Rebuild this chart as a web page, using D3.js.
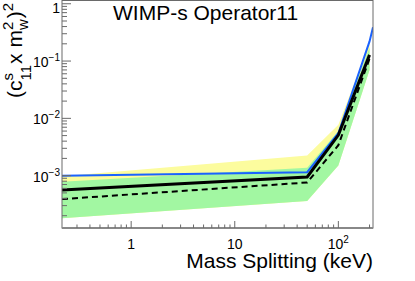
<!DOCTYPE html>
<html>
<head>
<meta charset="utf-8">
<script src="https://cdn.jsdelivr.net/npm/d3@7"></script>
<style>
  body { margin: 0; background: #fff; }
  text { font-family: "Liberation Sans", Arial, Helvetica, sans-serif; fill: #000; }
</style>
</head>
<body>
<svg width="415" height="281"></svg>
<script>
// mass splitting points (keV)
var mass = [0.215, 50, 100, 200];
var expected = [5.6e-4, 9.5e-4, 5.1e-3, 0.128];
var median = [3.9e-4, 7.6e-4, 3.4e-3, 0.11];
var greenHi = [7.8e-4, 1.38e-3, 6.0e-3, 0.17];
var greenLo = [1.8e-4, 3.6e-4, 1.5e-3, 0.07];
var yellowHi = [9.8e-4, 2.25e-3, 7.7e-3, 0.2];
var yellowLo = [1.8e-4, 3.6e-4, 1.5e-3, 0.07];
// blue curve runs up to the frame edge
var blueMass = [0.215, 50, 100, 200, 216];
var blueVal = [1.0e-3, 1.15e-3, 5.5e-3, 0.22, 0.39];

var xTickVals = [1, 10, 100];
var xTickLabels = [["1", ""], ["10", ""], ["10", "2"]];
var yTickVals = [1, 0.1, 0.01, 0.001];
var yTickLabels = [["1", ""], ["10", "\u22121"], ["10", "\u22122"], ["10", "\u22123"]];

var svg = d3.select("svg");
var fLeft = 62, fRight = 373, fTop = 0.5, fBottom = 228;

var x = d3.scaleLog().domain([0.215, 216]).range([fLeft, fRight]);
var y = d3.scaleLog().domain([1.22e-4, 1.14]).range([fBottom, fTop]);

svg.append("defs").append("clipPath").attr("id", "frame")
  .append("rect").attr("x", fLeft).attr("y", fTop)
  .attr("width", fRight - fLeft).attr("height", fBottom - fTop);

var plot = svg.append("g").attr("clip-path", "url(#frame)");

function band(hi, lo) {
  var pts = mass.map(function (m, i) { return [m, hi[i], lo[i]]; });
  return d3.area()
    .x(function (d) { return x(d[0]); })
    .y0(function (d) { return y(d[2]); })
    .y1(function (d) { return y(d[1]); })(pts);
}

plot.append("path").attr("d", band(yellowHi, yellowLo)).attr("fill", "#fcfc9e");
plot.append("path").attr("d", band(greenHi, greenLo)).attr("fill", "#a2f7a2");

var line = d3.line()
  .x(function (d) { return x(d[0]); })
  .y(function (d) { return y(d[1]); });

plot.append("path")
  .attr("d", line(d3.zip(blueMass, blueVal)))
  .attr("fill", "none").attr("stroke", "#1a62ff").attr("stroke-width", 2);

plot.append("path")
  .attr("d", line(d3.zip(mass, expected)))
  .attr("fill", "none").attr("stroke", "#000").attr("stroke-width", 3);

plot.append("path")
  .attr("d", line(d3.zip(mass, median)))
  .attr("fill", "none").attr("stroke", "#000").attr("stroke-width", 2)
  .attr("stroke-dasharray", "6,4");

// frame and ticks
var axisCol = "#6a6a6a";
svg.append("rect").attr("x", fLeft).attr("y", fTop)
  .attr("width", fRight - fLeft).attr("height", fBottom - fTop)
  .attr("fill", "none").attr("stroke", axisCol).attr("stroke-width", 1);
svg.append("line").attr("x1", fLeft).attr("x2", fRight)
  .attr("y1", fBottom).attr("y2", fBottom)
  .attr("stroke", "#888").attr("stroke-width", 2);

// x ticks (inward)
var xMinor = [];
[0.1, 1, 10, 100].forEach(function (d) {
  for (var k = 2; k <= 9; k++) {
    var v = d * k;
    if (v > 0.215 && v < 216) xMinor.push(v);
  }
});
svg.append("g").selectAll("line").data(xMinor).join("line")
  .attr("x1", function (d) { return x(d); }).attr("x2", function (d) { return x(d); })
  .attr("y1", fBottom).attr("y2", fBottom - 3.5)
  .attr("stroke", axisCol);
svg.append("g").selectAll("line").data(xTickVals).join("line")
  .attr("x1", function (d) { return x(d); }).attr("x2", function (d) { return x(d); })
  .attr("y1", fBottom).attr("y2", fBottom - 7)
  .attr("stroke", axisCol);

// y ticks (inward)
var yMinor = [];
[0.0001, 0.001, 0.01, 0.1].forEach(function (d) {
  for (var k = 2; k <= 9; k++) {
    var v = d * k;
    if (v > 1.22e-4 && v < 1.14) yMinor.push(v);
  }
});
svg.append("g").selectAll("line").data(yMinor).join("line")
  .attr("y1", function (d) { return y(d); }).attr("y2", function (d) { return y(d); })
  .attr("x1", fLeft).attr("x2", fLeft + 5)
  .attr("stroke", axisCol);
svg.append("g").selectAll("line").data(yTickVals).join("line")
  .attr("y1", function (d) { return y(d); }).attr("y2", function (d) { return y(d); })
  .attr("x1", fLeft).attr("x2", fLeft + 9)
  .attr("stroke", axisCol);

// tick labels
var xl = svg.append("g").selectAll("text").data(xTickVals).join("text")
  .attr("x", function (d) { return x(d); })
  .attr("y", 249)
  .attr("text-anchor", "middle")
  .style("font-size", "14px");
xl.append("tspan").text(function (d, i) { return xTickLabels[i][0]; });
xl.append("tspan").attr("dy", -6).style("font-size", "10px")
  .text(function (d, i) { return xTickLabels[i][1]; });

var yl = svg.append("g").selectAll("text").data(yTickVals).join("text")
  .attr("x", 60)
  .attr("y", function (d) { return Math.max(y(d) + 6, 13); })
  .attr("text-anchor", "end")
  .style("font-size", "14px");
yl.append("tspan").text(function (d, i) { return yTickLabels[i][0]; });
yl.append("tspan").attr("dy", -6).style("font-size", "10px")
  .text(function (d, i) { return yTickLabels[i][1]; });

// titles
svg.append("text").attr("x", 113).attr("y", 20)
  .style("font-size", "21px").text("WIMP-s Operator11");

svg.append("text").attr("x", fRight).attr("y", 268)
  .attr("text-anchor", "end").style("font-size", "21px")
  .text("Mass Splitting (keV)");

// y title: (c^s_11 x m_w^2)^2
var yt = svg.append("g").attr("transform", "translate(22,98) rotate(-90)");
var pos = 0;
function piece(str, size, dy, advance) {
  var t = yt.append("text").attr("x", pos).attr("y", dy)
    .style("font-size", size + "px").text(str);
  var w = t.node().getComputedTextLength();
  if (advance) pos += w;
  return w;
}
piece("(c", 21, 0, true);
var w1 = piece("s", 15, -9, false);
var w2 = piece("11", 15, 9, false);
pos += Math.max(w1, w2) + 1;
piece(" x m", 21, 0, true);
w1 = piece("2", 15, -9, false);
w2 = piece("w", 15, 6, false);
pos += Math.max(w1, w2) + 1;
piece(")", 21, 0, true);
piece("2", 15, -9, true);
</script>
</body>
</html>
